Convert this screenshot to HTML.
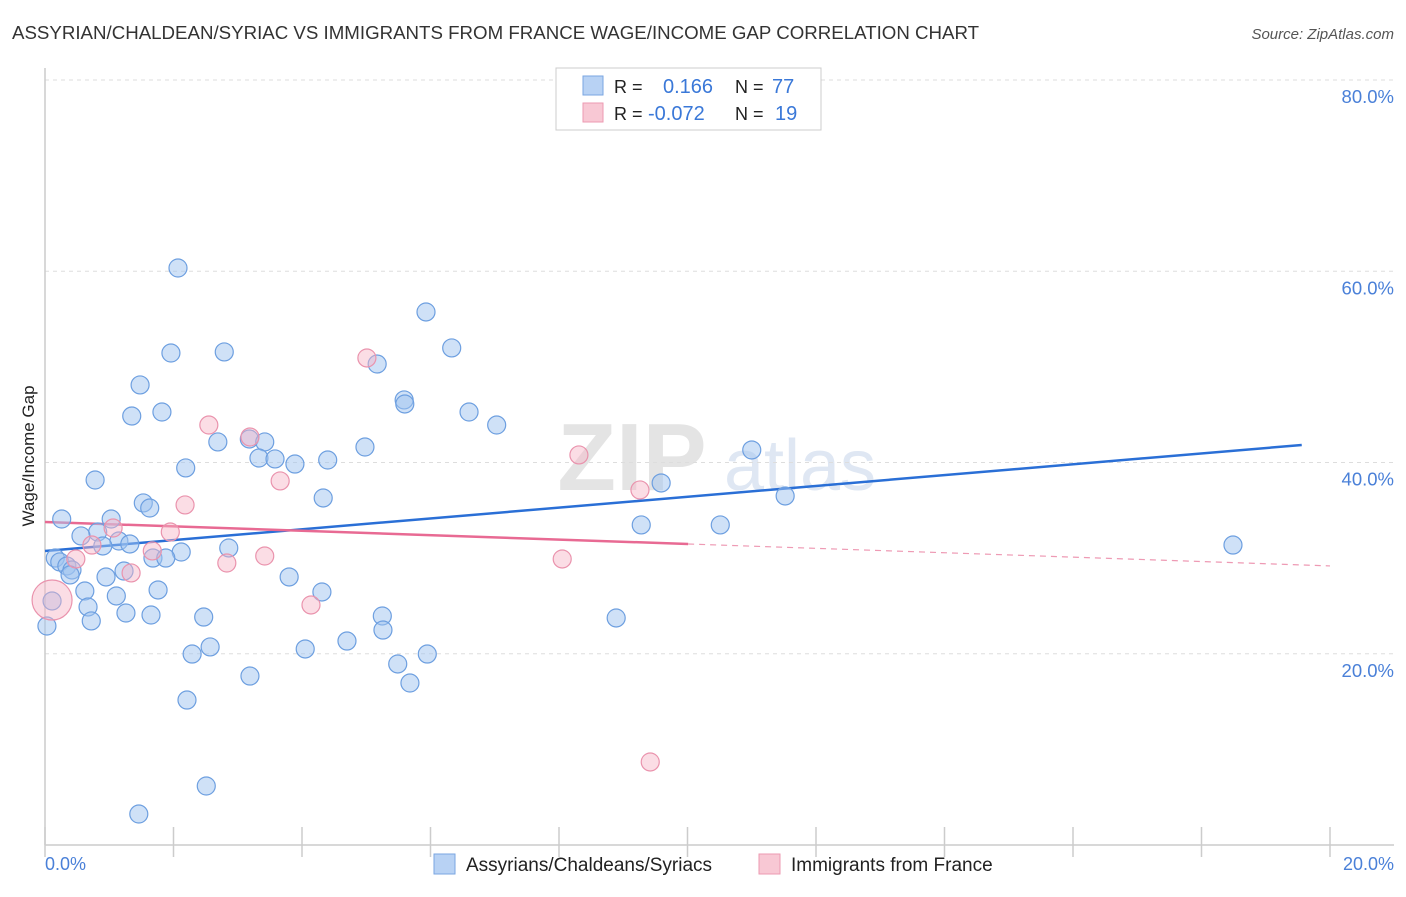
<!DOCTYPE html>
<html><head><meta charset="utf-8"><style>
body{margin:0;background:#fff;font-family:"Liberation Sans",sans-serif;}
svg text{font-family:"Liberation Sans",sans-serif;}
</style></head><body>
<svg id="chart" width="1406" height="892" viewBox="0 0 1406 892" xmlns="http://www.w3.org/2000/svg">
<text x="12" y="39" font-size="18.7" fill="#333">ASSYRIAN/CHALDEAN/SYRIAC VS IMMIGRANTS FROM FRANCE WAGE/INCOME GAP CORRELATION CHART</text>
<text x="1394" y="39" font-size="15" fill="#555" font-style="italic" text-anchor="end">Source: ZipAtlas.com</text>
<g>
<text x="632" y="490" font-size="96" fill="#e4e4e4" font-family="Liberation Serif" text-anchor="middle" font-weight="bold">ZIP</text>
<text x="800" y="490" font-size="72" fill="#dfe7f3" text-anchor="middle">atlas</text>
</g>
<g id="grid"></g>
<line x1="45" y1="68" x2="45" y2="845" stroke="#ccc" stroke-width="1.5"/>
<line x1="45" y1="845" x2="1394" y2="845" stroke="#ccc" stroke-width="1.5"/>
<text transform="translate(34,456) rotate(-90)" font-size="17" fill="#222" text-anchor="middle">Wage/Income Gap</text>
<text x="45" y="870" font-size="18" fill="#4a80d8">0.0%</text>
<text x="1394" y="870" font-size="18" fill="#4a80d8" text-anchor="end">20.0%</text>
<g id="lines"></g>
<g id="points"></g>
<g>
<rect x="556" y="68" width="265" height="62" fill="#fff" stroke="#ccc"/>
<rect x="583" y="76" width="20" height="19" fill="#b8d2f4" stroke="#7aa6e2"/>
<rect x="583" y="103" width="20" height="19" fill="#f8c8d4" stroke="#ec9ab2"/>
<text x="614" y="93" font-size="18" fill="#222">R =</text>
<text x="663" y="93" font-size="20" fill="#3a78d8">0.166</text>
<text x="735" y="93" font-size="18" fill="#222">N =</text>
<text x="772" y="93" font-size="20" fill="#3a78d8">77</text>
<text x="614" y="120" font-size="18" fill="#222">R =</text>
<text x="648" y="120" font-size="20" fill="#3a78d8">-0.072</text>
<text x="735" y="120" font-size="18" fill="#222">N =</text>
<text x="775" y="120" font-size="20" fill="#3a78d8">19</text>
</g>
<g>
<rect x="434" y="854" width="21" height="20" fill="#b8d2f4" stroke="#7aa6e2"/>
<text x="466" y="871" font-size="19" fill="#222">Assyrians/Chaldeans/Syriacs</text>
</g>
<g>
<rect x="759" y="854" width="21" height="20" fill="#f8c8d4" stroke="#ec9ab2"/>
<text x="791" y="871" font-size="19" fill="#222">Immigrants from France</text>
</g>
</svg>
<script>
const blueX=[2.07,1.96,2.79,1.48,1.35,1.82,5.93,6.33,5.17,5.59,5.60,6.60,7.03,2.69,3.18,3.42,3.33,3.58,3.89,4.40,4.98,2.19,0.78,1.53,1.63,4.33,9.59,11.00,11.52,9.28,10.51,18.49,0.26,1.03,0.82,0.56,1.15,1.32,0.90,2.12,1.68,1.88,2.86,0.16,0.23,0.34,0.42,0.39,0.95,1.23,3.80,0.62,1.11,1.76,4.31,0.11,0.67,1.26,1.65,2.47,5.25,0.72,5.26,0.03,4.70,2.29,2.57,4.05,5.95,5.49,3.19,5.68,2.21,2.51,1.46,8.89];
const blueY=[60.34,51.45,51.56,48.11,44.86,45.28,55.74,51.98,50.30,46.54,46.12,45.28,43.92,42.15,42.46,42.15,40.47,40.37,39.84,40.26,41.62,39.43,38.17,35.77,35.24,36.29,37.86,41.31,36.50,33.47,33.47,31.37,34.09,34.09,32.73,32.32,31.79,31.48,31.27,30.64,30.01,30.01,31.06,30.01,29.60,29.18,28.76,28.24,28.03,28.65,28.03,26.56,26.04,26.67,26.46,25.52,24.89,24.26,24.05,23.84,23.95,23.43,22.48,22.90,21.33,19.97,20.71,20.50,19.97,18.93,17.67,16.94,15.16,6.17,3.24,23.74];
const pinkX=[0.11,0.48,0.73,1.06,1.67,1.34,1.95,2.18,2.55,3.19,3.66,3.42,2.83,4.14,5.01,8.31,9.26,8.05,9.42];
const pinkY=[25.62,29.91,31.37,33.15,30.75,28.45,32.73,35.56,43.92,42.67,38.07,30.22,29.49,25.10,50.93,40.79,37.13,29.91,8.68];
const pinkR=[20,9,9,9,9,9,9,9,9,9,9,9,9,9,9,9,9,9,9];
const blueTrend=[30.75,0.5665];
const pinkTrend=[33.78,-0.2298];
const pinkSolidEnd=10.01;
const yTicks=[20,40,60,80];
const xTicks=[0,2,4,6,8,10,12,14,16,18,20];
const NS="http://www.w3.org/2000/svg";
const sx=v=>45+v/20*1285;
const sy=v=>845-v/80*765;
function mk(tag,attrs,parent){const e=document.createElementNS(NS,tag);for(const k in attrs)e.setAttribute(k,attrs[k]);parent.appendChild(e);return e;}
const grid=document.getElementById('grid');
yTicks.forEach(t=>{
 const l=mk('line',{x1:45,x2:1394,y1:sy(t),y2:sy(t),stroke:'#ddd','stroke-dasharray':'4,4'},grid);
 
 
 const tx=mk('text',{x:1394,y:sy(t)+23,'font-size':18.5,fill:'#4a80d8','text-anchor':'end'},grid);
 tx.textContent=t.toFixed(1)+'%';
 
 
});
xTicks.forEach(t=>{
 const l=mk('line',{x1:sx(t),x2:sx(t),y1:827,y2:845+12,stroke:'#ccc','stroke-width':1.5},grid);
 
 
});
const pts=document.getElementById('points');
blueX.forEach((x,i)=>{
 const c=mk('circle',{cx:sx(x),cy:sy(blueY[i]),r:9,fill:'rgba(160,196,240,0.5)',stroke:'#6d9fe0','stroke-width':1.2},pts);
 
 
});
pinkX.forEach((x,i)=>{
 const c=mk('circle',{cx:sx(x),cy:sy(pinkY[i]),r:pinkR[i],fill:'rgba(246,180,198,0.45)',stroke:'#ea93ad','stroke-width':1.2},pts);
 
 
});
const lines=document.getElementById('lines');
const bl=mk('line',{x1:sx(0),y1:sy(blueTrend[0]),x2:sx(19.56),y2:sy(blueTrend[0]+blueTrend[1]*19.56),stroke:'#2a6fd6','stroke-width':2.5},lines);


const pl=mk('line',{x1:sx(0),y1:sy(pinkTrend[0]),x2:sx(pinkSolidEnd),y2:sy(pinkTrend[0]+pinkTrend[1]*pinkSolidEnd),stroke:'#e86a93','stroke-width':2.5},lines);


const pd=mk('line',{x1:sx(pinkSolidEnd),y1:sy(pinkTrend[0]+pinkTrend[1]*pinkSolidEnd),x2:sx(20),y2:sy(pinkTrend[0]+pinkTrend[1]*20),stroke:'#ee9ab4','stroke-width':1.2,'stroke-dasharray':'6,5'},lines);


</script>
</body></html>
